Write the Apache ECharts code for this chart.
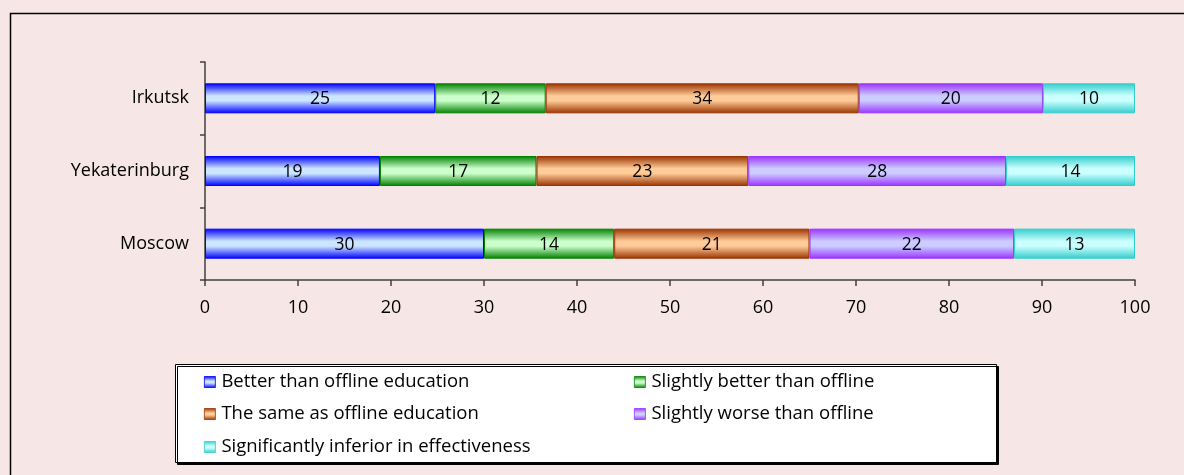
<!DOCTYPE html>
<html>
<head>
<meta charset="utf-8">
<script src="https://cdn.jsdelivr.net/npm/echarts@6/dist/echarts.min.js"></script>
<style>
  html, body { margin: 0; padding: 0; background: #F6E6E6; }
  #chart { width: 1184px; height: 475px; }
</style>
</head>
<body>
<div id="chart"></div>
<script>
// Cities, bottom to top
const cities = ['Moscow', 'Yekaterinburg', 'Irkutsk'];

// Answer groups
const groupNames = [
  'Better than offline education',
  'Slightly better than offline',
  'The same as offline education',
  'Slightly worse than offline',
  'Significantly inferior in effectiveness'
];

// Shares per city (Moscow, Yekaterinburg, Irkutsk), %
const better         = [30, 19, 25];
const slightlyBetter = [14, 17, 12];
const same           = [21, 23, 34];
const slightlyWorse  = [22, 28, 20];
const inferior       = [13, 14, 10];

const xTicks = { min: 0, max: 100, interval: 10 };

// Edge / highlight colours for the cylinder-like shading
const palette = [
  { edge: '#0000FF', mid: '#CCE6FF' },
  { edge: '#008000', mid: '#CCFFCC' },
  { edge: '#993300', mid: '#FFCC99' },
  { edge: '#9933FF', mid: '#CCCCFF' },
  { edge: '#33CCCC', mid: '#CCFFFF' }
];

const groups = [better, slightlyBetter, same, slightlyWorse, inferior];

// 100% stacking: each city's bar is scaled to its own total
const totals = cities.map((_, i) => groups.reduce((s, g) => s + g[i], 0));

const font = "'Open Sans', 'Liberation Sans', sans-serif";

function shade(p) {
  return new echarts.graphic.LinearGradient(0, 0, 0, 1, [
    { offset: 0, color: p.edge },
    { offset: 0.42, color: p.mid },
    { offset: 0.58, color: p.mid },
    { offset: 1, color: p.edge }
  ]);
}

const series = groups.map((g, k) => ({
  name: groupNames[k],
  type: 'bar',
  stack: 'all',
  barWidth: 30,
  itemStyle: { color: shade(palette[k]), borderColor: palette[k].edge, borderWidth: 1 },
  label: {
    show: true,
    position: 'inside',
    color: '#000',
    fontFamily: font,
    fontSize: 17.5,
    offset: [0, 1],
    formatter: (p) => g[p.dataIndex]
  },
  data: g.map((v, i) => v / totals[i] * 100)
}));

// Legend rows: [name index, left, row centre]
const legendSlots = [
  [0, 204, 382], [1, 634, 382],
  [2, 204, 414], [3, 634, 414],
  [4, 204, 447]
];

const legends = legendSlots.map(([k, left, cy]) => ({
  data: [groupNames[k]],
  left: left,
  top: cy - 11,
  padding: 0,
  icon: 'rect',
  itemWidth: 11,
  itemHeight: 11,
  itemGap: 5,
  selectedMode: false,
  itemStyle: { borderWidth: 0.8 },
  textStyle: { fontFamily: font, fontSize: 18.5, color: '#000', lineHeight: 22, padding: [0, 0, 0, 1] }
}));

const chart = echarts.init(document.getElementById('chart'), null, { renderer: 'canvas' });
chart.setOption({
  backgroundColor: '#F6E6E6',
  animation: false,
  graphic: [
    {
      type: 'rect',
      z: -1,
      shape: { x: 10.5, y: 13.5, width: 2000, height: 2000 },
      style: { fill: 'none', stroke: '#000', lineWidth: 1.5 }
    },
    {
      type: 'rect',
      z: -1,
      shape: { x: 175.5, y: 364.5, width: 821, height: 98 },
      style: {
        fill: '#fff', stroke: '#000', lineWidth: 1,
        shadowColor: '#000', shadowOffsetX: 2, shadowOffsetY: 2, shadowBlur: 0
      }
    }
  ],
  legend: legends,
  grid: { left: 205, right: 49, top: 62, bottom: 195, containLabel: false },
  xAxis: {
    type: 'value',
    min: xTicks.min,
    max: xTicks.max,
    interval: xTicks.interval,
    axisLine: { show: true, lineStyle: { color: '#404040', width: 1.5 } },
    axisTick: { show: true, length: 6, lineStyle: { color: '#404040', width: 1.5 } },
    splitLine: { show: false },
    axisLabel: { color: '#000', fontFamily: font, fontSize: 18, margin: 19 }
  },
  yAxis: {
    type: 'category',
    data: cities,
    axisLine: { show: true, lineStyle: { color: '#404040', width: 1.5 } },
    axisTick: { show: true, length: 5, lineStyle: { color: '#404040', width: 1.5 } },
    axisLabel: { color: '#000', fontFamily: font, fontSize: 18, margin: 16 }
  },
  series: series
});
</script>
</body>
</html>
